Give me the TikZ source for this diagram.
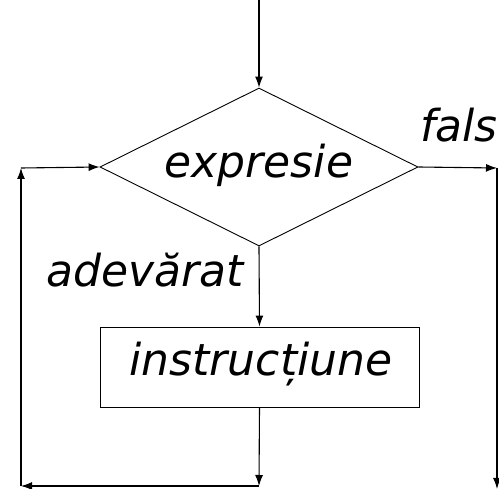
\documentclass[tikz,border=0pt]{standalone}
\usepackage{fontspec}
\setmainfont{DejaVu Sans}
\usetikzlibrary{shapes.geometric,arrows.meta}
\begin{document}
\begin{tikzpicture}[x=1pt,y=-1pt,
  lbl/.style={font=\fontsize{44}{50}\selectfont\itshape, inner sep=0pt},
  conn/.style={line width=1.1pt,-{Latex[length=11pt,width=8pt]}},
  dec/.style={draw, line width=0.9pt, shape=diamond, aspect=2.01, minimum width=318pt, minimum height=158pt, inner sep=0pt},
  blk/.style={draw, line width=0.9pt, minimum width=319pt, minimum height=80pt, inner sep=0pt}]
\useasboundingbox (0,0) rectangle (499,489);
\node[dec] (d) at (259,167) {};
\node[lbl] (e) at (259,165) {expresie};
\node[blk] (r) at (259.5,367) {};
\node[lbl] (i) at (261,364) {instrucțiune};
\node[lbl, anchor=base west] (f) at (420,142) {fals};
\node[lbl, anchor=base east] (a) at (244,287) {adevărat};
\coordinate (top) at (259,0);
\coordinate (c1) at (259,486);
\coordinate (c2) at (21,486);
\coordinate (c3) at (21,168);
\coordinate (c4) at (497,168);
\coordinate (c5) at (497,489);
\draw[conn] (top) -- (d.north);
\draw[conn] (d.south) -- (r.north);
\draw[conn] (r.south) -- (c1);
\draw[conn] (c1) -- (c2);
\draw[conn] (c2) -- (c3);
\draw[conn] (c3) -- (d.west);
\draw[conn] (d.east) -- (c4);
\draw[conn] (c4) -- (c5);
\end{tikzpicture}
\end{document}
